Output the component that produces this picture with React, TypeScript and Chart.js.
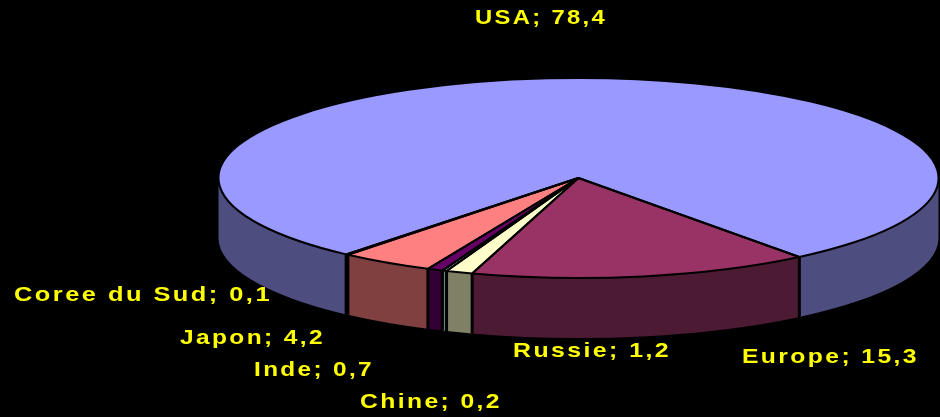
import React, { useEffect, useRef } from "react";
import { Chart, registerables } from "chart.js";

Chart.register(...registerables);

// Shares per country, listed clockwise from the large USA slice.
const categories = ["USA", "Europe", "Russie", "Chine", "Inde", "Japon", "Coree du Sud"];
const shares = [78.4, 15.3, 1.2, 0.2, 0.7, 4.2, 0.1];
const topColors = ["#9999FF", "#993366", "#FFFFCC", "#CCFFFF", "#660066", "#FF8080", "#0066CC"];

// Left edge, vertical middle and set width of each label, in category order.
const labelSpots: [number, number, number][] = [
  [475, 18, 132],
  [742, 357, 177],
  [513, 351, 158],
  [360, 402, 142],
  [254, 370, 120],
  [180, 338, 145],
  [14, 295, 258],
];

const TILT = 100 / 360; // vertical squash of the pie disc
const DEPTH = 60; // height of the pie's side wall
const TAU = Math.PI * 2;

// Side walls are the same hue at half brightness.
const shade = (hex: string) => {
  const n = parseInt(hex.slice(1), 16);
  const half = (v: number) => Math.round(v / 2);
  return `rgb(${half((n >> 16) & 255)},${half((n >> 8) & 255)},${half(n & 255)})`;
};

const labelText = (i: number) =>
  `${categories[i]}; ${shares[i].toFixed(1).replace(".", ",")}`;

// Angle ranges of an arc that fall on the near half of the disc (0..PI).
const frontRanges = (start: number, end: number) => {
  const out: [number, number][] = [];
  for (let k = -2; k <= 2; k++) {
    const a = Math.max(start, k * TAU);
    const b = Math.min(end, k * TAU + Math.PI);
    if (b > a) out.push([a, b]);
  }
  return out;
};

const pie3d = {
  id: "pie3d",
  beforeDatasetsDraw(chart: any) {
    const { ctx } = chart;
    const arcs = chart.getDatasetMeta(0).data;
    ctx.save();
    arcs.forEach((arc: any, i: number) => {
      const { x, y, outerRadius: r, startAngle, endAngle } = arc.getProps(
        ["x", "y", "outerRadius", "startAngle", "endAngle"],
        true
      );
      const ry = r * TILT;
      frontRanges(startAngle, endAngle).forEach(([a, b]) => {
        ctx.beginPath();
        ctx.ellipse(x, y, r, ry, 0, a, b);
        ctx.ellipse(x, y + DEPTH, r, ry, 0, b, a, true);
        ctx.closePath();
        ctx.fillStyle = shade(topColors[i]);
        ctx.fill();
      });
    });
    // Vertical seams between neighbouring walls
    ctx.strokeStyle = "#000";
    ctx.lineWidth = 3;
    arcs.forEach((arc: any) => {
      const { x, y, outerRadius: r, startAngle } = arc.getProps(
        ["x", "y", "outerRadius", "startAngle"],
        true
      );
      const s = Math.sin(startAngle);
      if (s <= 0) return;
      const px = x + r * Math.cos(startAngle);
      const py = y + r * TILT * s;
      ctx.beginPath();
      ctx.moveTo(px, py);
      ctx.lineTo(px, py + DEPTH);
      ctx.stroke();
    });
    ctx.restore();
  },
  beforeDatasetDraw(chart: any) {
    const { ctx } = chart;
    const { x, y } = chart.getDatasetMeta(0).data[0].getProps(["x", "y"], true);
    ctx.save();
    ctx.translate(x, y);
    ctx.scale(1, TILT);
    ctx.translate(-x, -y);
  },
  afterDatasetDraw(chart: any) {
    chart.ctx.restore();
  },
  afterDatasetsDraw(chart: any) {
    const { ctx } = chart;
    const arcs = chart.getDatasetMeta(0).data;
    ctx.save();
    // Outlines go on after the squash so they keep an even width.
    ctx.strokeStyle = "#000";
    ctx.lineWidth = 2;
    ctx.lineJoin = "round";
    arcs.forEach((arc: any) => {
      const { x, y, outerRadius: r, startAngle, endAngle } = arc.getProps(
        ["x", "y", "outerRadius", "startAngle", "endAngle"],
        true
      );
      ctx.beginPath();
      ctx.moveTo(x, y);
      ctx.ellipse(x, y, r, r * TILT, 0, startAngle, endAngle);
      ctx.closePath();
      ctx.stroke();
    });
    // Category labels, stretched sideways to their set width
    ctx.fillStyle = "#FFFF00";
    ctx.font = 'bold 20.5px "Liberation Sans", Arial, sans-serif';
    ctx.textBaseline = "middle";
    ctx.textAlign = "left";
    (ctx as any).letterSpacing = "2px";
    categories.forEach((_, i) => {
      const [lx, ly, width] = labelSpots[i];
      const text = labelText(i);
      ctx.save();
      ctx.translate(lx, ly);
      ctx.scale(width / ctx.measureText(text).width, 1);
      ctx.fillText(text, 0, 0);
      ctx.restore();
    });
    ctx.restore();
  },
};

export default function App() {
  const canvasRef = useRef<HTMLCanvasElement>(null);

  useEffect(() => {
    const chart = new Chart(canvasRef.current as HTMLCanvasElement, {
      type: "pie",
      data: {
        labels: categories,
        datasets: [
          {
            data: shares,
            backgroundColor: topColors,
            borderWidth: 0,
            radius: 360,
            clip: false,
          } as any,
        ],
      },
      options: {
        animation: false,
        responsive: false,
        rotation: -139.8,
        layout: { padding: { left: 217, right: 0, top: 0, bottom: 61 } },
        plugins: { legend: { display: false }, tooltip: { enabled: false } },
      },
      plugins: [pie3d],
    });
    return () => chart.destroy();
  }, []);

  return (
    <div style={{ position: "fixed", left: 0, top: 0, width: 940, height: 417, background: "#000" }}>
      <canvas ref={canvasRef} width={940} height={417} style={{ display: "block" }} />
    </div>
  );
}
